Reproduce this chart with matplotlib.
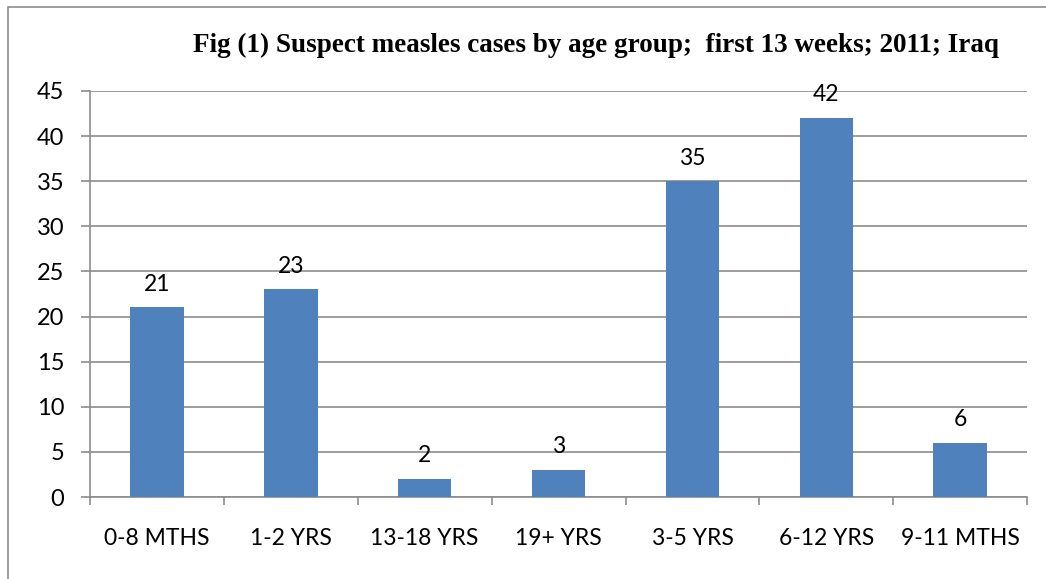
import matplotlib.pyplot as plt
from matplotlib.patches import Rectangle

# data
age_groups = ["0-8 MTHS", "1-2 YRS", "13-18 YRS", "19+ YRS", "3-5 YRS", "6-12 YRS", "9-11 MTHS"]
cases = [21, 23, 2, 3, 35, 42, 6]

BAR = "#4F81BD"
GRID = "#8C8C8C"
FONT = "Lato"

fig = plt.figure(figsize=(10.46, 5.79), dpi=100, facecolor="white")
ax = fig.add_axes([0.086, 0.1416, 0.896, 0.7014])

x = range(len(age_groups))
ax.bar(x, cases, width=0.4, color=BAR, zorder=3)

for xi, v in zip(x, cases):
    ax.annotate(str(v), (xi, v), xytext=(0, 9), textcoords="offset points",
                ha="center", va="bottom", fontsize=16.5, family=FONT)

ax.set_xlim(-0.5, len(age_groups) - 0.5)
ax.set_ylim(0, 45)
ax.set_yticks(range(0, 46, 5))
ax.yaxis.grid(True, color=GRID, linewidth=1.2, zorder=0)

ax.set_xticks(x)
ax.set_xticklabels(age_groups, fontsize=16.5, family=FONT)
ax.set_xticks([i - 0.5 for i in range(len(age_groups) + 1)], minor=True)
ax.tick_params(axis="x", which="major", length=0, pad=22)
ax.tick_params(axis="x", which="minor", length=6, width=1.2, color=GRID)
ax.tick_params(axis="y", length=6.5, width=1.2, color=GRID, labelsize=17, pad=12)
for lab in ax.get_yticklabels():
    lab.set_family(FONT)

for s in ["top", "right"]:
    ax.spines[s].set_visible(False)
for s in ["left", "bottom"]:
    ax.spines[s].set_color(GRID)
    ax.spines[s].set_linewidth(1.2)

fig.text(0.570, 0.922, "Fig (1) Suspect measles cases by age group;  first 13 weeks; 2011; Iraq",
         ha="center", va="center", fontsize=19.5, fontweight="bold", family="Liberation Serif")

# outer frame (cut off at right and bottom)
fig.patches.append(Rectangle((8 / 1046, -0.1), 1.2, 1.1 - 7 / 579, transform=fig.transFigure,
                             fill=False, edgecolor=GRID, linewidth=1.2))

fig.savefig("out.png", dpi=100, facecolor="white")
